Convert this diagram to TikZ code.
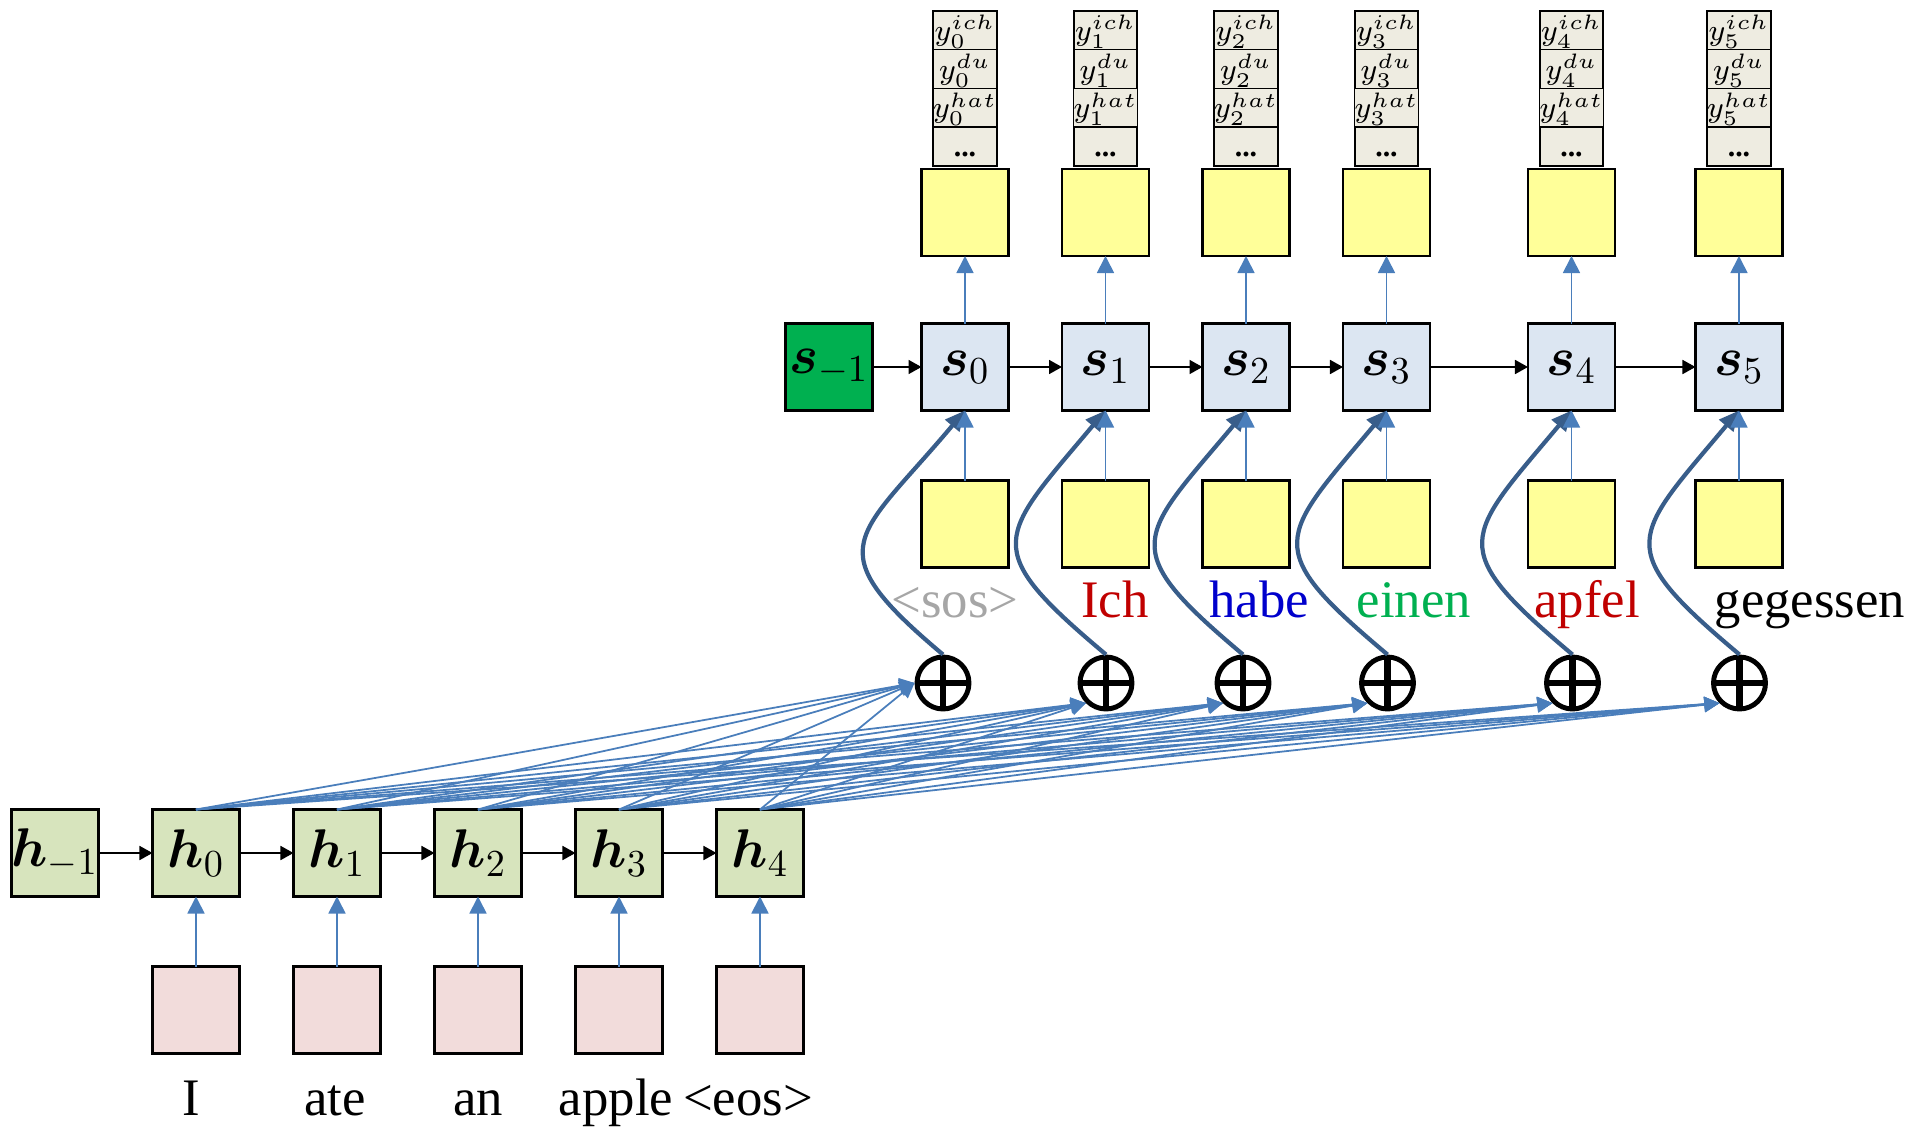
\documentclass[tikz,border=0pt]{standalone}
\usepackage{fix-cm}
\usepackage{amsmath,bm}
\usepackage[no-math]{fontspec}
\setmainfont{Liberation Serif}
\usetikzlibrary{arrows.meta,positioning}
\definecolor{hgreen}{RGB}{215,228,189}
\definecolor{embpink}{RGB}{242,220,219}
\definecolor{sblue}{RGB}{220,230,242}
\definecolor{initgreen}{RGB}{0,176,80}
\definecolor{outyellow}{RGB}{255,255,153}
\definecolor{cellgray}{RGB}{238,236,225}
\definecolor{linkblue}{RGB}{74,126,187}
\definecolor{ctxblue}{RGB}{56,93,138}
\definecolor{sosgray}{RGB}{166,166,166}
\definecolor{wordred}{RGB}{192,0,0}
\definecolor{wordblue}{RGB}{0,0,204}

\begin{document}
\begin{tikzpicture}[x=0.1mm, y=0.1mm,
    node distance=5.4mm,
    hbox/.style={draw, line width=0.6pt, fill=hgreen, minimum size=8.7mm, inner sep=0pt,
                outer sep=0pt, font=\fontsize{15.5}{18}\selectfont},
    embbox/.style={draw, line width=0.6pt, fill=embpink, minimum size=8.7mm, inner sep=0pt,
                outer sep=0pt},
    sbox/.style={hbox, fill=sblue},
    sinit/.style={hbox, fill=initgreen},
    ybox/.style={draw, line width=0.7pt, fill=outyellow, minimum size=8.7mm, inner sep=0pt,
                outer sep=0pt},
    cell/.style={draw, line width=0.5pt, fill=cellgray, minimum width=6.35mm, minimum height=3.88mm,
                inner sep=0pt, outer sep=0pt, text height=2.7mm, text depth=0.7mm,
                font=\fontsize{8.5}{10}\selectfont},
    oplus/.style={circle, draw, line width=1.4pt, minimum size=5.2mm, inner sep=0pt,
                path picture={\draw[line width=1.8pt]
                    (path picture bounding box.north) -- (path picture bounding box.south)
                    (path picture bounding box.west) -- (path picture bounding box.east);}},
    word/.style={anchor=base, font=\fontsize{15}{18}\selectfont},
    arr/.style={-{Triangle[length=1.3mm,width=1.4mm]}, line width=0.5pt},
    feed/.style={-{Triangle[length=1.7mm,width=1.7mm]}, line width=0.5pt, linkblue},
    att/.style={-{Triangle[length=1.5mm,width=1.5mm]}, line width=0.5pt, linkblue},
    ctx/.style={-{Triangle[length=2mm,width=1.8mm]}, line width=1.2pt, ctxblue,
                out=140, in=-130, looseness=1.75}
]
\useasboundingbox (0,0) rectangle (1925,-1133);

% encoder
\node[hbox] (hm1) at (55,-853) {$\bm{h}_{-1}$};
\node[hbox, right=of hm1] (h0) {$\bm{h}_0$};
\node[hbox, right=of h0] (h1) {$\bm{h}_1$};
\node[hbox, right=of h1] (h2) {$\bm{h}_2$};
\node[hbox, right=of h2] (h3) {$\bm{h}_3$};
\node[hbox, right=of h3] (h4) {$\bm{h}_4$};
\foreach \i in {0,...,4}
    \node[embbox, below=7mm of h\i] (e\i) {};

\node[word] (wI) at (191,-1115) {I};
\node[word] (wate) at (335,-1115) {ate};
\node[word] (wan) at (478,-1115) {an};
\node[word] (wapple) at (616,-1115) {apple};
\node[word] (weos) at (748,-1115) {<eos>};

% decoder
\node[sinit] (sm1) at (829,-367) {$\bm{s}_{-1}$};
\node[sbox, right=4.9mm of sm1] (s0) {$\bm{s}_0$};
\node[sbox, right=5.35mm of s0] (s1) {$\bm{s}_1$};
\node[sbox, right=5.35mm of s1] (s2) {$\bm{s}_2$};
\node[sbox, right=5.35mm of s2] (s3) {$\bm{s}_3$};
\node[sbox, right=9.8mm of s3] (s4) {$\bm{s}_4$};
\node[sbox, right=8.05mm of s4] (s5) {$\bm{s}_5$};

\foreach \i in {0,...,5} {
    \node[ybox, below=7mm of s\i] (x\i) {};
    \node[ybox, above=6.75mm of s\i] (o\i) {};
    \node[cell, above=0.3mm of o\i] (dots\i) {\textbf{...}};
    \node[cell, above=0mm of dots\i] (hat\i) {$y_{\i}^{hat}$};
    \node[cell, above=0mm of hat\i] (du\i) {$y_{\i}^{du}$};
    \node[cell, above=0mm of du\i] (ich\i) {$y_{\i}^{ich}$};
}

\node[oplus] (c0) at (943,-683) {};
\node[oplus] (c1) at (1106,-683) {};
\node[oplus] (c2) at (1243,-683) {};
\node[oplus] (c3) at (1387.5,-683) {};
\node[oplus] (c4) at (1572.5,-683) {};
\node[oplus] (c5) at (1739.5,-683) {};

\node[word, text=sosgray] (wsos) at (955,-617) {<sos>};
\node[word, text=wordred] (wich) at (1115,-617) {Ich};
\node[word, text=wordblue] (whabe) at (1259,-617) {habe};
\node[word, text=initgreen] (weinen) at (1414,-617) {einen};
\node[word, text=wordred] (wapfel) at (1587,-617) {apfel};
\node[word] (wgegessen) at (1810,-617) {gegessen};

% recurrences
\foreach \a/\b in {hm1/h0,h0/h1,h1/h2,h2/h3,h3/h4,sm1/s0,s0/s1,s1/s2,s2/s3,s3/s4,s4/s5}
    \draw[arr] (\a) -- (\b);

% attention
\foreach \j in {0,...,4} {
    \draw[att] (h\j.north) -- (c0.west);
    \foreach \i in {1,...,5}
        \draw[att] (h\j.north) -- (c\i.225);
}

\foreach \i in {0,...,4}
    \draw[feed] (e\i) -- (h\i);
\foreach \i in {0,...,5} {
    \draw[ctx] (c\i.north) to (s\i.south);
    \draw[feed] (x\i) -- (s\i);
    \draw[feed] (s\i) -- (o\i);
}
\end{tikzpicture}
\end{document}
